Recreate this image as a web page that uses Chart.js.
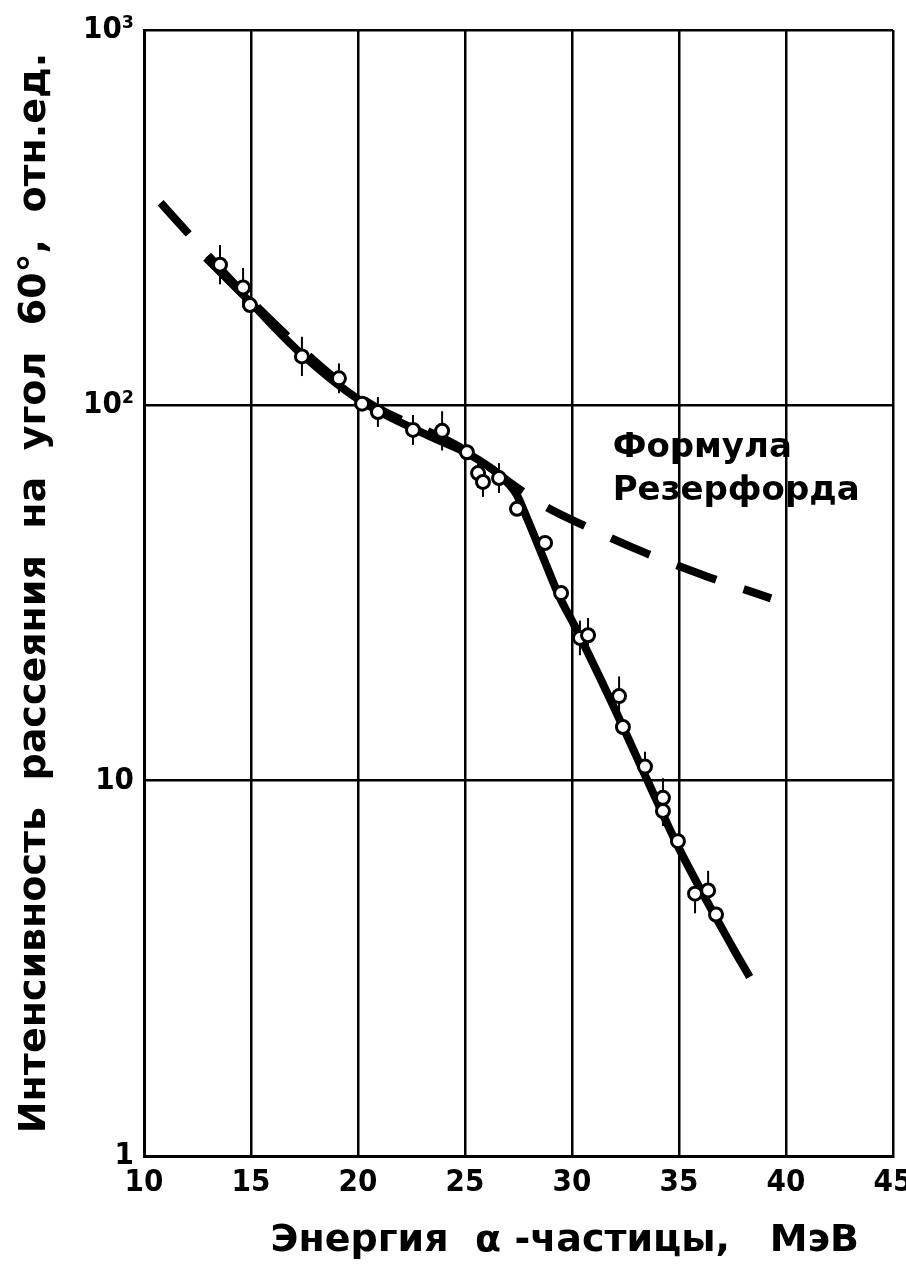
<!DOCTYPE html>
<html lang=ru>
<head>
<meta charset=UTF-8>
<title>Rutherford</title>
<style>
  * { margin: 0; padding: 0; }
  body { background: #fff; }
  #wrap { width: 906px; height: 1268px; }
</style>
</head>
<body>
<div id="wrap"><canvas id="myChart"></canvas></div>
<script src="https://cdn.jsdelivr.net/npm/chart.js"></script>
<script>
  // measured points (energy MeV, intensity)
  const pointE = [13.55, 14.63, 14.95, 17.38, 19.11, 20.19, 20.93, 22.57, 23.93, 25.09, 25.61, 25.84, 26.59, 27.43,
                  28.74, 29.49, 30.37, 30.75, 32.2, 32.38, 33.41, 34.25, 34.25, 34.95, 35.75, 36.36, 36.73];
  const pointI = [237, 206, 185, 135, 118, 101, 96, 86, 85.5, 75, 66, 62.5, 64, 53,
                  43, 31.6, 24, 24.4, 16.8, 13.9, 10.9, 9.0, 8.3, 6.9, 5.0, 5.1, 4.4];
  const pointErr = [0.08, 0.08, 0, 0.08, 0.06, 0, 0.06, 0.06, 0.08, 0, 0.06, 0.06, 0.06, 0,
                    0, 0, 0.07, 0.07, 0.08, 0, 0.06, 0.08, 0.06, 0, 0.08, 0.08, 0];

  // experimental curve
  const curveE = [12.9, 14.9, 17.3, 20.1, 23.5, 25.2, 26.5, 27.4, 27.9, 28.6, 29.4, 30.1, 31.8, 33.6, 35.0, 37.5, 38.3];
  const curveI = [247, 190, 138, 103, 82, 74, 66, 58, 50, 40, 31, 26, 16.4, 9.8, 6.6, 3.6, 3.0];

  // Rutherford formula
  const rutherE = [10.4, 12.0, 15.0, 20.0, 25.0, 27.5, 28.7, 30.5, 33.4, 36.3, 39.3];
  const rutherI = [366, 290, 190, 106, 76, 60, 54, 48, 40.5, 35, 30.6];

  const xTicks = [10, 15, 20, 25, 30, 35, 40, 45];
  const yTicks = [1, 10, 100, 1000];
  const yLabels = {1: '1', 10: '10', 100: '10²', 1000: '10³'};

  const xy = (xs, ys) => xs.map((x, i) => ({x, y: ys[i]}));

  const extras = {
    id: 'extras',
    beforeDatasetsDraw(chart) {
      const {ctx, scales: {x, y}} = chart;
      ctx.save();
      ctx.strokeStyle = '#000';
      ctx.lineWidth = 2;
      pointE.forEach((e, i) => {
        if (!pointErr[i]) return;
        const px = x.getPixelForValue(e);
        ctx.beginPath();
        ctx.moveTo(px, y.getPixelForValue(pointI[i] * (1 + pointErr[i] * 1.6)));
        ctx.lineTo(px, y.getPixelForValue(pointI[i] / (1 + pointErr[i] * 1.6)));
        ctx.stroke();
      });
      ctx.restore();
    },
    afterDraw(chart) {
      const {ctx, scales: {x, y}} = chart;
      ctx.save();
      ctx.fillStyle = '#000';
      ctx.font = 'bold 34px "DejaVu Sans"';
      ctx.textBaseline = 'middle';
      ctx.fillText('Формула', x.getPixelForValue(31.9), y.getPixelForValue(77));
      ctx.fillText('Резерфорда', x.getPixelForValue(31.9), y.getPixelForValue(59));
      ctx.restore();
    }
  };

  const tickFont = {family: '"Liberation Sans Narrow", "DejaVu Sans Condensed", "DejaVu Sans"', size: 31, weight: 'bold'};

  new Chart(document.getElementById('myChart'), {
    type: 'scatter',
    data: {
      datasets: [{
        data: xy(pointE, pointI),
        pointRadius: 6.5,
        pointBackgroundColor: '#fff',
        pointBorderColor: '#000',
        pointBorderWidth: 3,
        showLine: false
      }, {
        data: xy(curveE, curveI),
        showLine: true,
        borderColor: '#000',
        borderWidth: 8,
        pointRadius: 0,
        cubicInterpolationMode: 'monotone'
      }, {
        data: xy(rutherE, rutherI),
        showLine: true,
        borderColor: '#000',
        borderWidth: 8,
        borderDash: [42, 29],
        borderDashOffset: -12,
        pointRadius: 0,
        cubicInterpolationMode: 'monotone'
      }]
    },
    options: {
      responsive: true,
      maintainAspectRatio: false,
      animation: false,
      layout: {padding: {top: 30, right: 13, left: 0, bottom: 4}},
      plugins: {legend: {display: false}, tooltip: {enabled: false}},
      scales: {
        x: {
          type: 'linear',
          min: 10,
          max: 45,
          afterBuildTicks: s => { s.ticks = xTicks.map(v => ({value: v})); },
          afterFit: s => { s.height = 1268 - 4 - 1156; s.paddingLeft = 0; s.paddingRight = 0; },
          ticks: {color: '#000', font: tickFont, padding: 8, maxRotation: 0},
          grid: {color: '#000', lineWidth: 2.5, drawTicks: false},
          border: {color: '#000', width: 3},
          // leading spaces push the centred title to the right, as in the picture
          title: {display: true, text: '       Энергия  α -частицы,   МэВ', color: '#000',
                  font: {family: '"DejaVu Sans"', size: 38, weight: 'bold'}, padding: {top: 0, bottom: 0}}
        },
        y: {
          type: 'logarithmic',
          min: 1,
          max: 1000,
          afterBuildTicks: s => { s.ticks = yTicks.map(v => ({value: v})); },
          afterFit: s => { s.width = 144; s.paddingTop = 0; s.paddingBottom = 0; },
          ticks: {color: '#000', font: tickFont, padding: 10, callback: v => yLabels[v]},
          grid: {color: '#000', lineWidth: 2.5, drawTicks: false},
          border: {color: '#000', width: 3},
          title: {display: true, text: 'Интенсивность  рассеяния  на  угол  60°,  отн.ед.', color: '#000',
                  font: {family: '"DejaVu Sans"', size: 38, weight: 'bold'}, padding: {top: 12, bottom: 0}}
        }
      }
    },
    plugins: [extras]
  });
</script>
</body>
</html>
